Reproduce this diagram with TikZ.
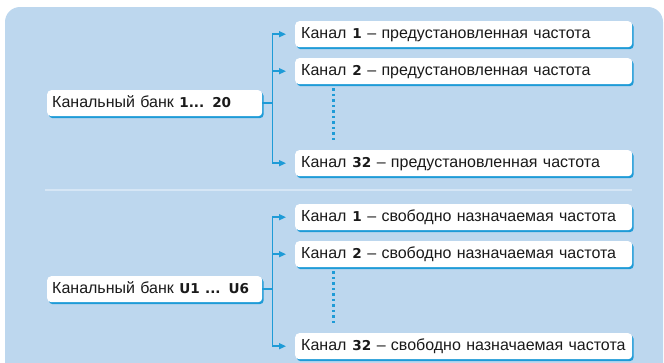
\documentclass[tikz,border=0pt]{standalone}
\usepackage{fontspec}
\setmainfont{Liberation Sans}
\newfontfamily\bnum{DejaVu Sans}[Scale=0.85]
\usetikzlibrary{arrows.meta,shadows,calc}
\definecolor{bgc}{HTML}{BDD7EE}
\definecolor{lnc}{HTML}{1E9BD7}
\definecolor{sepc}{HTML}{D6E6F5}
\definecolor{txc}{HTML}{1A1A1A}
\newcommand{\bn}[1]{{\bnum\bfseries #1}}
\begin{document}
\begin{tikzpicture}[x=1pt,y=-1pt,
  font=\fontsize{16}{18}\selectfont,
  box/.style={fill=white, rounded corners=4pt, anchor=north west, inner ysep=0pt,
    minimum height=26pt, text height=11.5pt, text depth=3pt, align=left, text=txc,
    drop shadow={opacity=1, fill=lnc, shadow xshift=1.5pt, shadow yshift=-2pt}},
  bank/.style={box, inner xsep=5pt, text width=205pt},
  chan/.style={box, inner xsep=6pt, text width=325pt},
  conn/.style={draw=lnc, line width=1.5pt},
  tip/.style={-{Triangle[length=7pt,width=6pt]}, shorten >=9pt},
  tips/.style={{Triangle[length=7pt,width=6pt]}-{Triangle[length=7pt,width=6pt]}, shorten <=9pt, shorten >=9pt},
  dotl/.style={draw=lnc, line width=3pt, dash pattern=on 2.5pt off 3pt},
  sepl/.style={draw=sepc, line width=1.2pt}]
\useasboundingbox (0,0) rectangle (664,362);
\fill[bgc, rounded corners=15pt] (5,7) rectangle (663,420);
\draw[sepl] (45,190) -- (632,190);

% upper group
\node[bank] (bank1) at (47,90) {Канальный банк \bn{1... 20}};
\node[chan] (c11) at (295,21) {Канал\hspace{6pt}\bn{1} – предустановленная частота};
\node[chan] (c12) at (295,58) {Канал\hspace{6pt}\bn{2} – предустановленная частота};
\node[chan] (c13) at (295,150) {Канал\hspace{6pt}\bn{32} – предустановленная частота};

\draw[conn] (bank1.east) -- ++(10,0) coordinate (t1);
\draw[conn, tips] (c11.west) -| (t1) |- (c13.west);
\draw[conn, tip] (t1 |- c12.west) -- (c12.west);
\draw[dotl] ($(c12.south west)+(38,4)$) -- ($(c13.north west)+(38,-10)$);

% lower group
\node[bank] (bank2) at (47,276) {Канальный банк \bn{U1 ... U6}};
\node[chan] (c21) at (295,204) {Канал\hspace{6pt}\bn{1} – свободно назначаемая частота};
\node[chan] (c22) at (295,241) {Канал\hspace{6pt}\bn{2} – свободно назначаемая частота};
\node[chan] (c23) at (295,333) {Канал\hspace{6pt}\bn{32} – свободно назначаемая частота};

\draw[conn] (bank2.east) -- ++(10,0) coordinate (t2);
\draw[conn, tips] (c21.west) -| (t2) |- (c23.west);
\draw[conn, tip] (t2 |- c22.west) -- (c22.west);
\draw[dotl] ($(c22.south west)+(38,4)$) -- ($(c23.north west)+(38,-10)$);
\end{tikzpicture}
\end{document}
